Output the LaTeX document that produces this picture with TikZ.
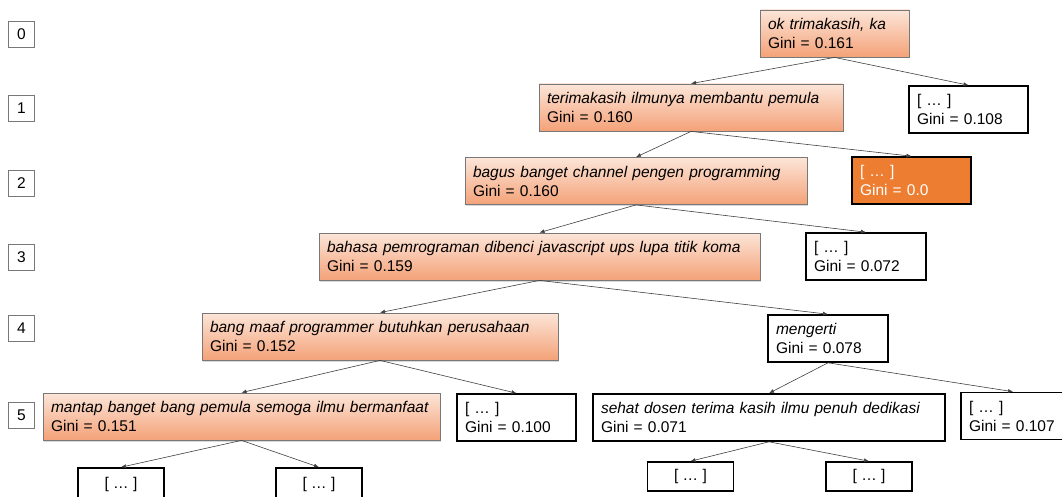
\documentclass[tikz,border=0pt]{standalone}
\usepackage{fontspec}
\setmainfont{Liberation Sans}
\usepackage{tikz}
\usetikzlibrary{arrows.meta, positioning, shadows}
\usepackage{xcolor}
\definecolor{peachtop}{RGB}{252,229,216}
\definecolor{peachbot}{RGB}{244,162,120}
\definecolor{pureorange}{RGB}{237,125,49}
\definecolor{boxgray}{RGB}{120,120,120}

\begin{document}
\begin{tikzpicture}[
  x=1pt, y=-1pt,
  font=\fontsize{15.5}{19}\selectfont,
  splitnode/.style={rectangle, draw=boxgray, line width=0.8pt, top color=peachtop, bottom color=peachbot, drop shadow={shadow xshift=1pt, shadow yshift=-1.5pt, opacity=0.3}, text width=#1, align=left, inner xsep=8pt, minimum height=47pt},
  leafnode/.style={rectangle, draw=black, line width=1.6pt, fill=white, text width=#1, align=left, inner xsep=8pt, minimum height=47pt},
  purenode/.style={leafnode=#1, fill=pureorange, text=white},
  endnode/.style={rectangle, draw=black, line width=1.6pt, fill=white, minimum width=86pt, minimum height=29pt, inner sep=0pt},
  levelnode/.style={rectangle, draw=boxgray, line width=0.8pt, fill=white, minimum width=26pt, minimum height=26pt, inner sep=0pt},
  arr/.style={-{Latex[length=5pt, width=4pt]}, line width=0.6pt, draw=black!75}
]
\useasboundingbox (0,0) rectangle (1062,497);

% tree levels
\node[levelnode] (lv0) at (21.5,34) {0};
\node[levelnode] (lv1) at (21.5,108) {1};
\node[levelnode] (lv2) at (21.5,183) {2};
\node[levelnode] (lv3) at (21.5,257) {3};
\node[levelnode] (lv4) at (21.5,328) {4};
\node[levelnode] (lv5) at (21.5,415.5) {5};

% split nodes
\node[splitnode=133pt] (n0) at (834.5,33.5) {\textit{ok trimakasih, ka}\\Gini = 0.161};
\node[splitnode=288pt] (n1) at (691,107.5) {\textit{terimakasih ilmunya membantu pemula}\\Gini = 0.160};
\node[leafnode=103pt] (r1) at (968.5,109.5) {[ … ]\\Gini = 0.108};
\node[splitnode=326pt] (n2) at (636,181) {\textit{bagus banget channel pengen programming}\\Gini = 0.160};
\node[purenode=103pt] (r2) at (911.5,180.5) {[ … ]\\Gini = 0.0};
\node[splitnode=425pt] (n3) at (539.5,256.5) {\textit{bahasa pemrograman dibenci javascript ups lupa titik koma}\\Gini = 0.159};
\node[leafnode=104pt] (r3) at (866,256.5) {[ … ]\\Gini = 0.072};
\node[splitnode=340pt] (n4) at (380,336.5) {\textit{bang maaf programmer butuhkan perusahaan}\\Gini = 0.152};
\node[leafnode=104pt] (m4) at (828,338.5) {\textit{mengerti}\\Gini = 0.078};
\node[splitnode=381pt] (n5) at (241.5,416.5) {\textit{mantap banget bang pemula semoga ilmu bermanfaat}\\Gini = 0.151};
\node[leafnode=103pt] (r5) at (516.5,417.5) {[ … ]\\Gini = 0.100};
\node[leafnode=336pt] (m5) at (769,417.5) {\textit{sehat dosen terima kasih ilmu penuh dedikasi}\\Gini = 0.071};
\node[leafnode=88pt] (q5) at (1013,416) {[ … ]\\Gini = 0.107};

% cut-off children
\node[endnode, minimum height=33pt] (e1) at (121,484.5) {[ … ]};
\node[endnode, minimum height=33pt] (e2) at (319,484.5) {[ … ]};
\node[endnode] (e3) at (690.5,476.5) {[ … ]};
\node[endnode] (e4) at (869,476.5) {[ … ]};

\draw[arr] (n0.south) -- (n1.north);
\draw[arr] (n0.south) -- (r1.north);
\draw[arr] (n1.south) -- (n2.north);
\draw[arr] (n1.south) -- (r2.north);
\draw[arr] (n2.south) -- (n3.north);
\draw[arr] (n2.south) -- (r3.north);
\draw[arr] (n3.south) -- (n4.north);
\draw[arr] (n3.south) -- (m4.north);
\draw[arr] (n4.south) -- (n5.north);
\draw[arr] (n4.south) -- (r5.north);
\draw[arr] (m4.south) -- (m5.north);
\draw[arr] (m4.south) -- (q5.north);
\draw[arr] (n5.south) -- (e1.north);
\draw[arr] (n5.south) -- (e2.north);
\draw[arr] (m5.south) -- (e3.north);
\draw[arr] (m5.south) -- (e4.north);
\end{tikzpicture}
\end{document}
